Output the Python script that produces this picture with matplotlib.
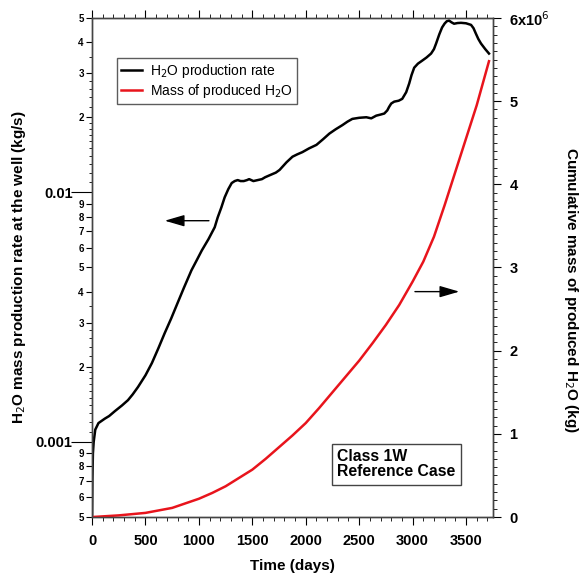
import numpy as np
import matplotlib.pyplot as plt
from matplotlib.ticker import FixedLocator, FuncFormatter, MultipleLocator, NullFormatter

plt.rcParams['font.family'] = ['Liberation Sans', 'DejaVu Sans']

# H2O production rate at the well (kg/s)
rate_t = [0, 3, 8, 15, 30, 60, 120, 160, 215, 280, 336, 380, 430, 500, 560, 620,
          680, 740, 800, 860, 930, 980, 1027, 1090, 1148, 1176, 1210, 1241, 1275,
          1307, 1335, 1363, 1390, 1420, 1450, 1470, 1490, 1510, 1550, 1590, 1620,
          1680, 1720, 1755, 1820, 1876, 1920, 1969, 2030, 2100, 2160, 2221, 2280,
          2343, 2390, 2436, 2500, 2567, 2613, 2660, 2700, 2735, 2763, 2780, 2800,
          2828, 2870, 2903, 2940, 2968, 2990, 3015, 3050, 3089, 3130, 3173, 3200,
          3220, 3250, 3276, 3300, 3320, 3341, 3365, 3388, 3420, 3453, 3500, 3547,
          3570, 3593, 3615, 3640, 3680, 3715]
rate_v = [5.0e-4, 7.0e-4, 9.0e-4, 1.0e-3, 1.12e-3, 1.19e-3, 1.24e-3, 1.27e-3,
          1.33e-3, 1.40e-3, 1.47e-3, 1.55e-3, 1.66e-3, 1.85e-3, 2.07e-3, 2.37e-3,
          2.73e-3, 3.12e-3, 3.6e-3, 4.15e-3, 4.87e-3, 5.35e-3, 5.85e-3, 6.5e-3,
          7.25e-3, 7.94e-3, 8.7e-3, 9.55e-3, 1.03e-2, 1.09e-2, 1.11e-2, 1.12e-2,
          1.11e-2, 1.11e-2, 1.12e-2, 1.13e-2, 1.12e-2, 1.11e-2, 1.12e-2, 1.13e-2,
          1.15e-2, 1.18e-2, 1.2e-2, 1.23e-2, 1.32e-2, 1.39e-2, 1.42e-2, 1.45e-2,
          1.5e-2, 1.55e-2, 1.63e-2, 1.72e-2, 1.79e-2, 1.86e-2, 1.92e-2, 1.97e-2,
          1.99e-2, 2.0e-2, 1.98e-2, 2.03e-2, 2.05e-2, 2.07e-2, 2.13e-2, 2.2e-2,
          2.27e-2, 2.31e-2, 2.33e-2, 2.37e-2, 2.52e-2, 2.73e-2, 2.95e-2, 3.16e-2,
          3.28e-2, 3.37e-2, 3.47e-2, 3.6e-2, 3.75e-2, 3.95e-2, 4.3e-2, 4.58e-2,
          4.75e-2, 4.85e-2, 4.88e-2, 4.8e-2, 4.74e-2, 4.77e-2, 4.78e-2, 4.76e-2,
          4.69e-2, 4.55e-2, 4.32e-2, 4.12e-2, 3.95e-2, 3.75e-2, 3.6e-2]

# cumulative mass of produced H2O (kg)
mass_t = [0, 250, 500, 750, 1000, 1125, 1250, 1375, 1500, 1625, 1750, 1875, 2000,
          2125, 2250, 2375, 2500, 2625, 2750, 2875, 3000, 3100, 3200, 3300, 3400,
          3500, 3600, 3715]
mass_v = [0, 0.02e6, 0.05e6, 0.11e6, 0.22e6, 0.29e6, 0.37e6, 0.47e6, 0.57e6,
          0.70e6, 0.84e6, 0.98e6, 1.13e6, 1.31e6, 1.50e6, 1.69e6, 1.88e6, 2.09e6,
          2.31e6, 2.55e6, 2.83e6, 3.07e6, 3.37e6, 3.75e6, 4.15e6, 4.55e6, 4.95e6,
          5.48e6]

fig = plt.figure(figsize=(5.79, 5.79), dpi=100)
ax1 = fig.add_axes([0.159, 0.107, 0.692, 0.862])
ax2 = ax1.twinx()

l1, = ax1.plot(rate_t, rate_v, color='black', lw=1.8, label='H$_2$O production rate')
l2, = ax2.plot(mass_t, mass_v, color='#e8141c', lw=1.8, label='Mass of produced H$_2$O')

ax1.set_yscale('log')
ax1.set_xlim(0, 3750)
ax1.set_ylim(5e-4, 5e-2)
ax2.set_ylim(0, 6e6)

# left axis ticks
major = []
for d in [1e-4, 1e-3, 1e-2]:
    for m in range(1, 10):
        v = m * d
        if 5e-4 - 1e-9 <= v <= 5e-2 + 1e-9:
            major.append(v)
fine = []
for d in [1e-4, 1e-3, 1e-2]:
    for m in [1.1, 1.2, 1.3, 1.4, 1.5, 1.6, 1.7, 1.8, 1.9, 2.2, 2.4, 2.6, 2.8, 3.5]:
        v = m * d
        if 5e-4 <= v <= 5e-2:
            fine.append(v)
ax1.yaxis.set_major_locator(FixedLocator(major))
ax1.yaxis.set_minor_locator(FixedLocator(fine))
ax1.yaxis.set_minor_formatter(NullFormatter())


def left_fmt(v, pos):
    e = np.floor(np.log10(v) + 1e-9)
    m = int(round(v / 10 ** e))
    if m == 1:
        return '0.001' if e == -3 else '0.01'
    return str(m)


ax1.yaxis.set_major_formatter(FuncFormatter(left_fmt))

ax1.xaxis.set_major_locator(MultipleLocator(500))
ax1.xaxis.set_minor_locator(MultipleLocator(100))
ax1.tick_params(axis='x', which='both', top=True, direction='out', labelsize=10.5, pad=6)
ax1.tick_params(axis='x', which='major', length=6)
ax1.tick_params(axis='x', which='minor', length=3)
ax1.tick_params(axis='y', which='major', length=4, direction='out', pad=2)
ax1.tick_params(axis='y', which='minor', length=2, direction='out')
for lab in ax1.get_xticklabels():
    lab.set_fontweight('bold')

# decade ticks are long and carry the bigger labels
for tk, v in zip(ax1.yaxis.get_major_ticks(), major):
    e = np.floor(np.log10(v) + 1e-9)
    tk.label1.set_fontweight('bold')
    if int(round(v / 10 ** e)) == 1:
        tk.set_pad(10)
        tk.tick1line.set_markersize(15)
        tk.label1.set_fontsize(10.5)
    else:
        tk.label1.set_fontsize(7)

# right axis ticks
ax2.yaxis.set_major_locator(MultipleLocator(1e6))
ax2.yaxis.set_minor_locator(MultipleLocator(1e5))
ax2.yaxis.set_major_formatter(FuncFormatter(
    lambda v, p: '6x10$^6$' if round(v / 1e6) == 6 else str(int(round(v / 1e6)))))
ax2.tick_params(axis='y', which='major', length=6, direction='out', labelsize=10.5, pad=6)
ax2.tick_params(axis='y', which='minor', length=3, direction='out')
for lab in ax2.get_yticklabels():
    lab.set_fontweight('bold')

for ax in (ax1, ax2):
    for s in ax.spines.values():
        s.set_color('#444444')
        s.set_linewidth(1.0)

ax1.set_xlabel('Time (days)', fontsize=11, fontweight='bold', labelpad=8)
ax1.set_ylabel('H$_2$O mass production rate at the well (kg/s)', fontsize=11,
               fontweight='bold')
ax1.yaxis.set_label_coords(-0.16, 0.5)
fig.text(571 / 579, 0.5, 'Cumulative mass of produced H$_2$O (kg)', fontsize=11,
         fontweight='bold', rotation=-90, ha='center', va='center')

leg = ax2.legend(handles=[l1, l2], loc='upper left', bbox_to_anchor=(0.062, 0.92),
                 borderaxespad=0, fontsize=10, frameon=True, fancybox=False,
                 handlelength=1.5, borderpad=0.3, labelspacing=0.15, handletextpad=0.6)
leg.get_frame().set_edgecolor('#333333')
leg.get_frame().set_linewidth(1.0)

ax2.text(0.612, 0.106, 'Class 1W\nReference Case', transform=ax2.transAxes,
         fontsize=11.3, fontweight='bold', va='center', ha='left', linespacing=1.0,
         bbox=dict(boxstyle='square,pad=0.35', fc='white', ec='#444444', lw=1.0))

ax1.annotate('', xy=(654, 7.7e-3), xytext=(1120, 7.7e-3),
             arrowprops=dict(arrowstyle='-|>,head_length=1.2,head_width=0.35',
                             color='black', lw=1.0))
ax2.annotate('', xy=(3463, 2.71e6), xytext=(2996, 2.71e6),
             arrowprops=dict(arrowstyle='-|>,head_length=1.2,head_width=0.35',
                             color='black', lw=1.0))

plt.savefig('out.png', dpi=100)
